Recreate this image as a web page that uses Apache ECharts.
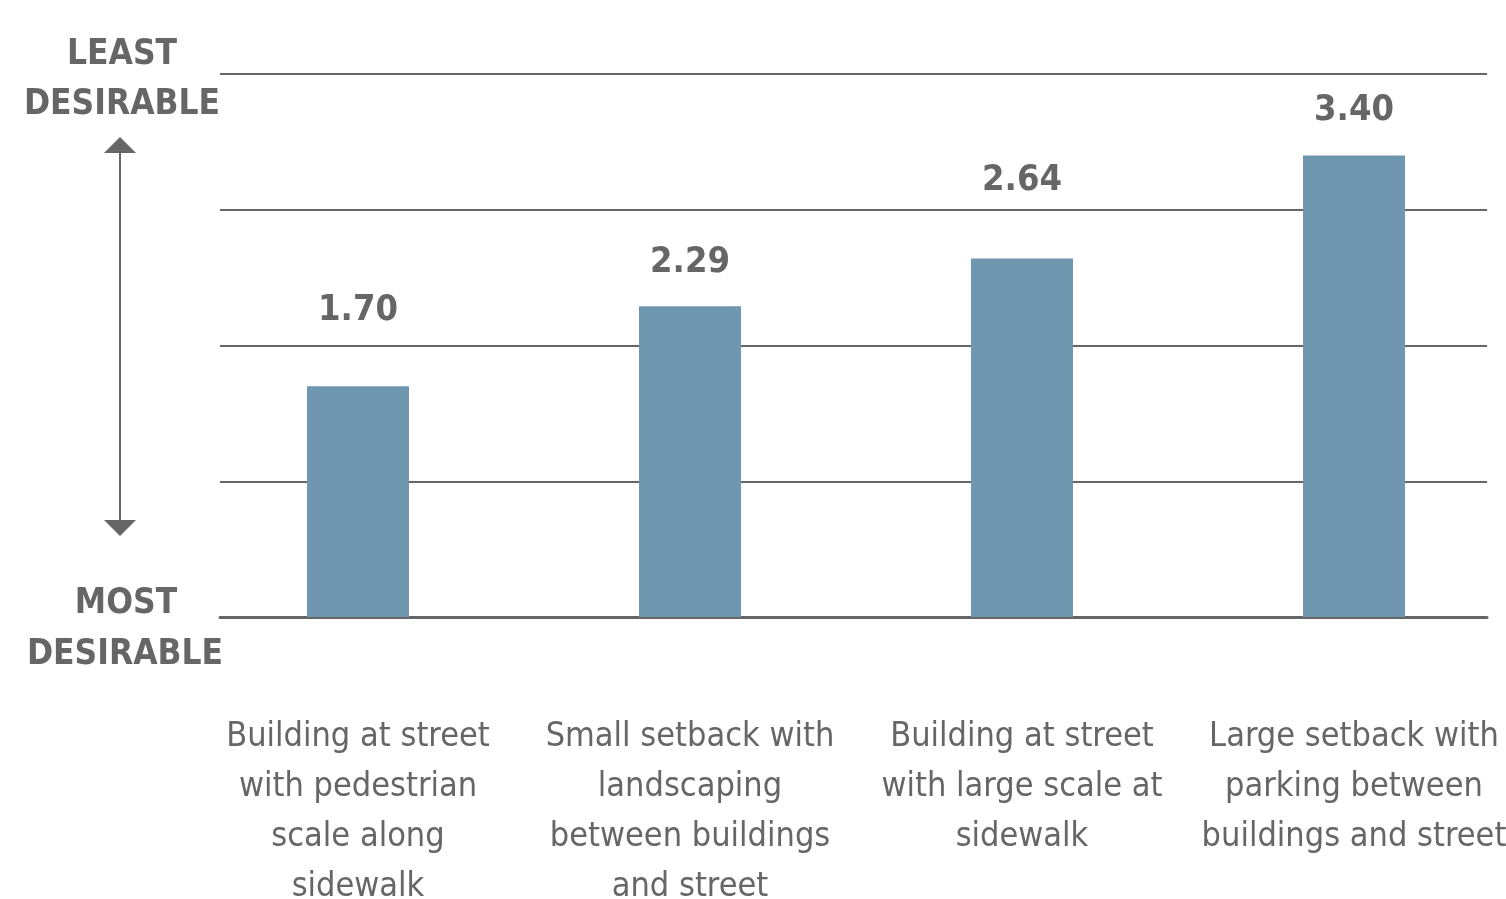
<!DOCTYPE html>
<html>
<head>
<meta charset="utf-8">
<script src="https://cdn.jsdelivr.net/npm/echarts@6/dist/echarts.min.js"></script>
<style>
  html, body { margin: 0; padding: 0; background: #fff; }
  #chart { width: 1506px; height: 899px; }
</style>
</head>
<body>
<div id="chart"></div>
<script>
// 数据
var categories = [
  'Building at street\nwith pedestrian\nscale along\nsidewalk',
  'Small setback with\nlandscaping\nbetween buildings\nand street',
  'Building at street\nwith large scale at\nsidewalk',
  'Large setback with\nparking between\nbuildings and street'
];
var scores = [1.70, 2.29, 2.64, 3.40];
var yTicks = [0, 1, 2, 3, 4];

// 数值标签离柱顶的距离
var labelGap = [58, 25, 60, 27];

var grey = '#666666';
var narrow = '"Liberation Sans Narrow", "DejaVu Sans Condensed", sans-serif';

var myChart = echarts.init(document.getElementById('chart'));

var barData = [];
for (var i = 0; i < scores.length; i++) {
  barData.push({
    value: scores[i],
    label: { distance: labelGap[i] }
  });
}

var headStyle = function (text, x, y) {
  return {
    type: 'text',
    style: { text: text, x: x, y: y, align: 'center', verticalAlign: 'middle',
      fill: grey, font: 'bold 35px ' + narrow }
  };
};

var option = {
  backgroundColor: '#ffffff',
  animation: false,
  grid: [
    { left: 220, right: 19, top: 74, bottom: 282, outerBoundsMode: 'none' },
    { left: 192, width: 1328, top: 74, bottom: 282, outerBoundsMode: 'none' }
  ],
  xAxis: [{
    gridIndex: 0,
    type: 'value',
    min: 0,
    max: 1,
    axisLine: { show: true, lineStyle: { color: grey, width: 3 } },
    axisTick: { show: false },
    axisLabel: { show: false },
    splitLine: { show: false }
  }, {
    gridIndex: 1,
    type: 'category',
    data: categories,
    axisLine: { show: false },
    axisTick: { show: false },
    axisLabel: {
      interval: 0,
      margin: 95,
      color: grey,
      fontFamily: narrow,
      fontSize: 34,
      lineHeight: 50,
      align: 'center'
    }
  }],
  yAxis: [{
    gridIndex: 0,
    type: 'value',
    min: yTicks[0],
    max: yTicks[yTicks.length - 1],
    interval: 1,
    axisLine: { show: false },
    axisTick: { show: false },
    axisLabel: { show: false },
    splitLine: { show: true, lineStyle: { color: grey, width: 2 } }
  }, {
    gridIndex: 1,
    type: 'value',
    min: yTicks[0],
    max: yTicks[yTicks.length - 1],
    interval: 1,
    axisLine: { show: false },
    axisTick: { show: false },
    axisLabel: { show: false },
    splitLine: { show: false }
  }],
  series: [{
    type: 'bar',
    xAxisIndex: 1,
    yAxisIndex: 1,
    barWidth: 102,
    data: barData,
    itemStyle: { color: '#6f98b0' },
    label: {
      show: true,
      position: 'top',
      formatter: function (p) { return p.value.toFixed(2); },
      color: grey,
      fontFamily: narrow,
      fontWeight: 'bold',
      fontSize: 36,
      lineHeight: 36
    },
    z: 5
  }],
  graphic: [
    headStyle('LEAST', 122, 55),
    headStyle('DESIRABLE', 122, 105),
    headStyle('MOST', 126, 604),
    headStyle('DESIRABLE', 125, 655),
    {
      type: 'line',
      shape: { x1: 120, y1: 150, x2: 120, y2: 522 },
      style: { stroke: grey, lineWidth: 2 }
    },
    {
      type: 'polygon',
      shape: { points: [[120, 137], [104, 153], [136, 153]] },
      style: { fill: grey }
    },
    {
      type: 'polygon',
      shape: { points: [[120, 536], [104, 520], [136, 520]] },
      style: { fill: grey }
    }
  ]
};

myChart.setOption(option);
</script>
</body>
</html>
